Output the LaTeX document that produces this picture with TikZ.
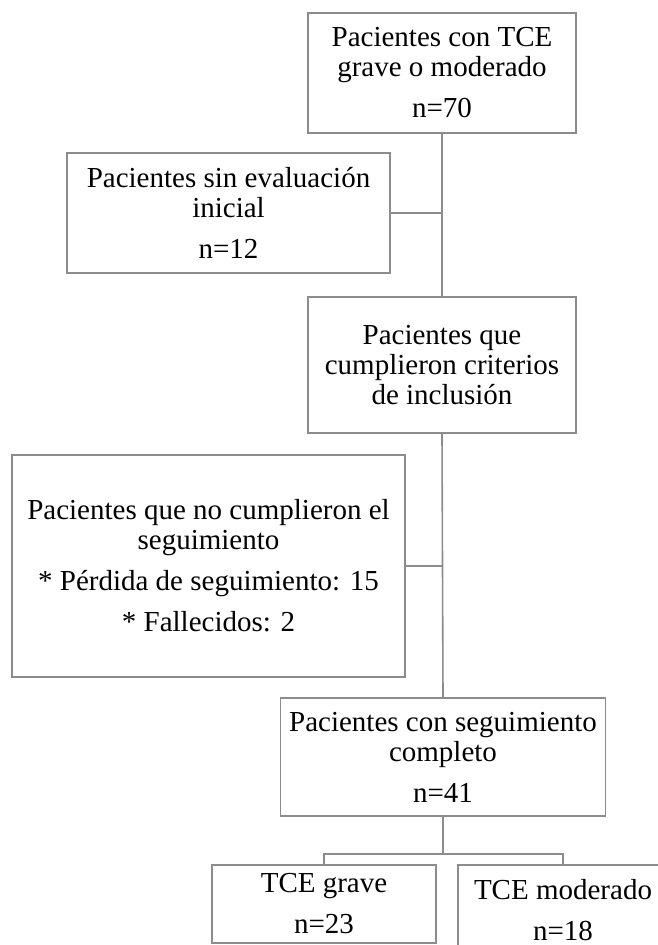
\documentclass[tikz,border=0pt]{standalone}
\usepackage{fontspec}
\setmainfont{Liberation Serif}
\usetikzlibrary{positioning,calc}

\begin{document}
\begin{tikzpicture}
        [x=1pt,y=-1pt,
         box/.style={draw=black!45,line width=1.6pt,align=center,inner sep=0pt,
                     font=\fontsize{29}{30}\selectfont},
         link/.style={draw=black!45,line width=1.6pt}]

        \useasboundingbox (0,0) rectangle (658,945);
        \clip (0,0) rectangle (658,945);

        \node[box,minimum width=268pt,minimum height=120pt] (total) at (442,73)
            {Pacientes con TCE\\grave o moderado\\[11pt]n=70};
        \node[box,minimum width=323pt,minimum height=120pt] (sineval) at (228.5,213)
            {Pacientes sin evaluaci\'on\\inicial\\[11pt]n=12};
        \node[box,minimum width=268pt,minimum height=136pt] (incl) at (442,365)
            {Pacientes que\\cumplieron criterios\\de inclusi\'on};
        \node[box,minimum width=393pt,minimum height=222pt] (nosegu) at (208.5,566)
            {Pacientes que no cumplieron el\\seguimiento\\[11pt]* P\'erdida de seguimiento: 15\\[11pt]* Fallecidos: 2};
        \node[box,minimum width=325pt,minimum height=118pt] (completo) at (443,757)
            {Pacientes con seguimiento\\completo\\[11pt]n=41};
        \node[box,minimum width=224pt,minimum height=78pt] (grave) at (324,904)
            {TCE grave\\[11pt]n=23};
        \node[box,minimum width=210pt,minimum height=90pt] (moderado) at (563,910)
            {TCE moderado\\[11pt]n=18};

        \draw[link] (total.south) -- (incl.north);
        \draw[link] (incl.south) -- (completo.north);
        \draw[link] (sineval.east) -- (sineval.east -| total.south);
        \draw[link] (nosegu.east) -- (nosegu.east -| incl.south);
        \coordinate (split) at ($(completo.south)+(0,37)$);
        \draw[link] (completo.south) -- (split);
        \draw[link] (split) -| (grave.north);
        \draw[link] (split) -| (moderado.north);

    \end{tikzpicture}
\end{document}
